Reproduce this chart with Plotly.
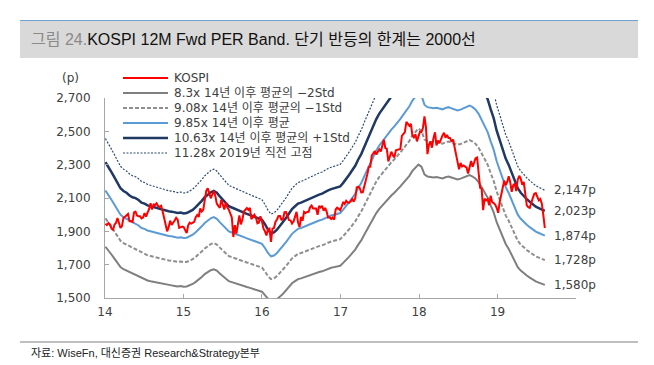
import pandas as pd
import numpy as np
import plotly.graph_objects as go

# ---------------- data ----------------
# KOSPI, weekly (Fridays) from 2014-01-03
kospi_2014 = [1946, 1938, 1950, 1940, 1919, 1907, 1940, 1950, 1980, 1954, 1920, 1932, 1981,
              1988, 1997, 2004, 1961, 1962, 1957, 2013, 2018, 1995, 1990, 1990, 1977, 1982,
              2009, 1988, 2012, 2033, 2068, 2031, 2061, 2058, 2068, 2051, 2047, 2053, 2021,
              1976, 1940, 1900, 1925, 1964, 1939, 1950, 1965, 1981, 1970, 1921, 1925, 1929]
kospi_2015 = [1926, 1904, 1889, 1936, 1952, 1947, 1950, 1957, 1985, 1998, 1986, 2037, 2019,
              2029, 2087, 2143, 2159, 2127, 2098, 2121, 2143, 2114, 2066, 2053, 2041, 2090,
              2058, 2031, 2074, 2044, 2030, 2010, 1983, 1866, 1937, 1886, 1941, 1995, 1942,
              1969, 2019, 2033, 2040, 2029, 2040, 1973, 1989, 2000, 1983, 1948, 1953, 1990]
kospi_2016 = [1961, 1917, 1900, 1875, 1912, 1917, 1836, 1916, 1920, 1956, 1971, 1992, 1992,
              1970, 1973, 2015, 2016, 1994, 1967, 1966, 1947, 1959, 1985, 2017, 1953, 1925,
              1987, 1963, 2017, 2010, 2016, 2017, 2044, 2055, 2037, 2038, 2037, 1999, 2053,
              2043, 2053, 2023, 2040, 2019, 1982, 1984, 1974, 1983, 1970, 2031, 2042, 2035, 2026]
kospi_2017 = [2049, 2076, 2065, 2083, 2073, 2072, 2080, 2094, 2078, 2097, 2164, 2168, 2160,
              2133, 2134, 2165, 2205, 2241, 2286, 2288, 2355, 2371, 2381, 2361, 2378, 2392,
              2379, 2414, 2450, 2400, 2395, 2319, 2358, 2378, 2357, 2343, 2386, 2388, 2394,
              2394, 2473, 2489, 2496, 2557, 2542, 2533, 2544, 2476, 2464, 2482, 2440, 2467]
kospi_2018 = [2497, 2496, 2520, 2590, 2525, 2363, 2421, 2440, 2402, 2459, 2494, 2416, 2445,
              2429, 2455, 2476, 2492, 2461, 2478, 2460, 2460, 2438, 2451, 2404, 2357, 2326,
              2272, 2310, 2289, 2295, 2288, 2282, 2247, 2283, 2322, 2287, 2319, 2339, 2343,
              2268, 2161, 2156, 2027, 2096, 2086, 2093, 2057, 2114, 2075, 2070, 2061, 2041]
kospi_2019 = [2011, 2076, 2124, 2177, 2204, 2177, 2196, 2230, 2195, 2137, 2176, 2186, 2141,
              2210, 2233, 2216, 2180, 2196, 2108, 2056, 2045, 2041, 2072, 2095, 2126, 2130,
              2110, 2086, 2094, 2066, 1998, 1920]
kospi_values = kospi_2014 + kospi_2015 + kospi_2016 + kospi_2017 + kospi_2018 + kospi_2019
kospi_dates = pd.date_range("2014-01-03", periods=len(kospi_values), freq="7D")

# 9.85x (post-2014 average PER) band, bi-weekly from 2014-01-03
band_mean = [2145, 2120, 2090, 2060, 2030, 2000, 1985, 1975, 1960, 1950, 1945, 1935, 1920,
             1915, 1905, 1900, 1895, 1892, 1885, 1880, 1878, 1872, 1870, 1866, 1862, 1865,
             1860, 1862, 1870, 1880, 1895, 1910, 1930, 1950, 1965, 1978, 1985, 1975, 1955,
             1935, 1915, 1900, 1893, 1885, 1880, 1872, 1865, 1858, 1852, 1845, 1840, 1832,
             1825, 1800, 1770, 1750, 1755, 1770, 1790, 1810, 1835, 1860, 1885, 1900, 1915,
             1920, 1928, 1935, 1945, 1950, 1958, 1965, 1970, 1980, 1988, 1995, 2000, 2005,
             2010, 2030, 2050, 2075, 2100, 2125, 2160, 2190, 2230, 2270, 2310, 2350, 2385,
             2415, 2440, 2465, 2490, 2510, 2530, 2550, 2575, 2600, 2625, 2650, 2685, 2710,
             2730, 2715, 2660, 2645, 2640, 2638, 2642, 2635, 2632, 2640, 2645, 2638, 2630,
             2625, 2630, 2640, 2650, 2655, 2645, 2630, 2605, 2570, 2530, 2495, 2440, 2390,
             2320, 2270, 2210, 2165, 2130, 2090, 2040, 2000, 1975, 1955, 1940, 1925, 1910,
             1898, 1890, 1882, 1874]
band_dates = pd.date_range("2014-01-03", periods=len(band_mean), freq="14D")
mean_per = 9.85
fwd_eps = np.array(band_mean) / mean_per

band_names = ["8.3x 14년 이후 평균의 −2Std", "9.08x 14년 이후 평균의 −1Std",
              "9.85x 14년 이후 평균", "10.63x 14년 이후 평균의 +1Std",
              "11.28x 2019년 직전 고점"]
band_pers = [8.3, 9.08, 9.85, 10.63, 11.28]
end_labels = ["1,580p", "1,728p", "1,874p", "2,023p", "2,147p"]
end_values = [1580, 1728, 1874, 2023, 2147]

x_tick_vals = ["2014-01-01", "2015-01-01", "2016-01-01", "2017-01-01", "2018-01-01",
               "2019-01-01", "2020-01-01"]
x_tick_text = ["14", "15", "16", "17", "18", "19", ""]
y_tick_vals = [1500, 1700, 1900, 2100, 2300, 2500, 2700]

# ---------------- styles ----------------
FONT = "DejaVu Sans, Noto Sans CJK KR, sans-serif"
TFONT = "Liberation Sans, Noto Sans CJK KR, sans-serif"
kospi_style = dict(color="#ff0000", width=2, dash="solid")
band_styles = [
    dict(color="#7f7f7f", width=2, dash="solid"),
    dict(color="#8f8f8f", width=2, dash="4px,2px"),
    dict(color="#5b9bd5", width=2, dash="solid"),
    dict(color="#1f3864", width=2.5, dash="solid"),
    dict(color="#2f4a72", width=1.2, dash="2px,1.5px"),
]

fig = go.Figure()
for name, per, st in zip(band_names, band_pers, band_styles):
    fig.add_trace(go.Scatter(x=band_dates, y=fwd_eps * per, mode="lines", name=name,
                             line=st, showlegend=False))
fig.add_trace(go.Scatter(x=kospi_dates, y=kospi_values, mode="lines", name="KOSPI",
                         line=kospi_style, showlegend=False))

# page has an 8px body margin: page pixel = figure pixel + 8
OFF = 8
pl, pt, pw, ph = 105, 98, 471, 200          # plot area in page pixels
ml, mt = pl - OFF, pt - OFF
def PX(px):
    return (px - pl) / pw
def PY(py):
    return (pt + ph - py) / ph

shapes = [
    dict(type="rect", xref="paper", yref="paper", x0=PX(20), x1=PX(638), y0=PY(58), y1=PY(21),
         fillcolor="#d9d9d9", line=dict(width=0), layer="below"),
    dict(type="line", xref="paper", yref="paper", x0=PX(20), x1=PX(638), y0=PY(20.5), y1=PY(20.5),
         line=dict(color="#6fa0d8", width=1)),
    dict(type="line", xref="paper", yref="paper", x0=PX(20), x1=PX(638), y0=PY(342), y1=PY(342),
         line=dict(color="#808080", width=1)),
]

annotations = [
    dict(xref="paper", yref="paper", x=PX(29), y=PY(40), xanchor="left", yanchor="middle",
         showarrow=False,
         text='<span style="color:#8a8a8a">그림 24.</span>KOSPI 12M Fwd PER Band. 단기 반등의 한계는 2000선',
         font=dict(family=TFONT, size=16, color="#111111")),
    dict(xref="paper", yref="paper", x=PX(29), y=PY(353), xanchor="left", yanchor="middle",
         showarrow=False, text="자료: WiseFn, 대신증권 Research&Strategy본부",
         font=dict(family=TFONT, size=11, color="#222222")),
    dict(xref="paper", yref="paper", x=PX(60), y=PY(78), xanchor="left", yanchor="middle",
         showarrow=False, text="(p)", font=dict(family=FONT, size=12, color="#404040")),
]
for lab, val in zip(end_labels, end_values):
    annotations.append(dict(xref="paper", yref="y", x=PX(552), y=val, xanchor="left",
                            yanchor="middle", showarrow=False, text=lab,
                            font=dict(family=FONT, size=12, color="#404040")))

# manual legend
legend_names = ["KOSPI"] + band_names
legend_styles = [kospi_style] + band_styles
for i, (nm, st) in enumerate(zip(legend_names, legend_styles)):
    yy = 78 + 15 * i
    shapes.append(dict(type="line", xref="paper", yref="paper", x0=PX(123), x1=PX(168),
                       y0=PY(yy), y1=PY(yy), line=dict(color=st["color"], width=st["width"],
                                                      dash=st["dash"])))
    annotations.append(dict(xref="paper", yref="paper", x=PX(172), y=PY(yy), xanchor="left",
                            yanchor="middle", showarrow=False, text=nm,
                            font=dict(family=FONT, size=12, color="#404040")))

fig.update_layout(
    width=654, height=365,
    margin=dict(l=ml, r=654 - ml - pw, t=mt, b=365 - mt - ph),
    paper_bgcolor="white", plot_bgcolor="white",
    font=dict(family=FONT, size=12, color="#404040"),
    showlegend=False,
    shapes=shapes, annotations=annotations,
    xaxis=dict(type="date", range=["2014-01-01", "2020-01-01"], tickvals=x_tick_vals,
               ticktext=x_tick_text, showgrid=False, zeroline=False, showline=True,
               linecolor="#a6a6a6", linewidth=1, ticks="inside", ticklen=4,
               tickcolor="#a6a6a6", ticklabelstandoff=3,
               tickfont=dict(size=12, color="#404040")),
    yaxis=dict(range=[1500, 2700], tickvals=y_tick_vals, tickformat=",", showgrid=False,
               zeroline=False, showline=True, linecolor="#a6a6a6", linewidth=1,
               ticks="inside", ticklen=4, tickcolor="#a6a6a6", ticklabelstandoff=11,
               tickfont=dict(size=12, color="#404040")),
)

fig.write_html("out.html")
